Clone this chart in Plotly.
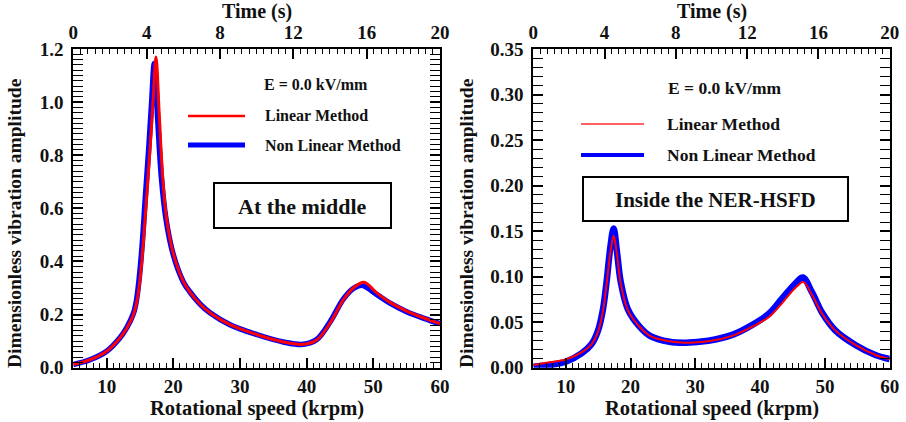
import plotly.graph_objects as go

# ---------------- data ----------------
# Left panel: "At the middle"
left_lin_x = [5, 7.5, 10, 12, 13, 14, 14.5, 15, 15.5, 16, 16.5, 17, 17.4, 17.9, 18.4, 19.0, 20, 21.5,
              22.5, 24, 25.5, 28.5, 32.5, 36.5, 39.5, 41.5, 43.5, 45.5, 47, 48.6, 50.5, 52.5, 55, 57.5, 60]
left_lin_y = [0.012, 0.03, 0.062, 0.112, 0.148, 0.198, 0.245, 0.33, 0.47, 0.64, 0.82, 1.02, 1.17, 0.95, 0.72, 0.56, 0.43,
              0.325, 0.285, 0.24, 0.207, 0.162, 0.125, 0.097, 0.088, 0.104, 0.168, 0.255, 0.30, 0.322, 0.282, 0.246,
              0.213, 0.188, 0.166]
left_non_x = [5, 7.5, 10, 12, 13, 14, 14.45, 14.9, 15.35, 15.8, 16.3, 16.75, 17.15, 17.65, 18.2, 18.9, 20, 21.5,
              22.5, 24, 25.5, 28.5, 32.5, 36.5, 39.5, 41.5, 43.5, 45.5, 47, 48.3, 50.5, 52.5, 55, 57.5, 60]
left_non_y = [0.012, 0.03, 0.062, 0.113, 0.15, 0.203, 0.25, 0.34, 0.47, 0.64, 0.82, 1.0, 1.145, 0.94, 0.72, 0.56, 0.425,
              0.323, 0.285, 0.24, 0.207, 0.162, 0.125, 0.097, 0.088, 0.106, 0.172, 0.258, 0.298, 0.31, 0.276, 0.243,
              0.211, 0.187, 0.166]

# Right panel: "Inside the NER-HSFD"
right_lin_x = [5, 7.5, 10, 12.5, 14, 15, 15.75, 16.35, 16.9, 17.4, 17.9, 18.5, 19.6, 21.4, 23, 26, 28.5, 32,
               35.7, 38.8, 41.4, 43.4, 45.5, 46.7, 48, 49.6, 51.6, 54.7, 57.8, 60]
right_lin_y = [0.003, 0.006, 0.009, 0.017, 0.026, 0.040, 0.062, 0.094, 0.127, 0.145, 0.125, 0.092, 0.063, 0.045, 0.035,
               0.029, 0.0275, 0.029, 0.035, 0.045, 0.056, 0.071, 0.088, 0.094, 0.080, 0.059, 0.041, 0.025, 0.014, 0.0095]
right_non_x = [5, 7.5, 10, 12.5, 14, 15, 15.75, 16.35, 16.9, 17.4, 17.9, 18.5, 19.6, 21.4, 23, 26, 28.5, 32,
               35.7, 38.8, 41.4, 43.4, 45.5, 46.6, 48, 49.6, 51.6, 54.7, 57.8, 60]
right_non_y = [0.001, 0.003, 0.0065, 0.016, 0.026, 0.041, 0.064, 0.097, 0.133, 0.153, 0.128, 0.094, 0.064, 0.045, 0.035,
               0.0285, 0.0275, 0.0296, 0.036, 0.047, 0.0595, 0.076, 0.093, 0.099, 0.083, 0.060, 0.041, 0.025, 0.014, 0.0095]

time_range = [0, 20]
speed_range = [5, 60]
left_y_range = [0, 1.2]
right_y_range = [0, 0.35]

field_label = "E = 0.0 kV/mm"
series_names = ["Linear Method", "Non Linear Method"]
panel_labels = ["At the middle", "Inside the NER-HSFD"]

# ---------------- figure ----------------
W, H = 906, 422
FONT = "Liberation Serif, Times New Roman, serif"
RED = "#ff0000"
BLUE = "#0000ff"
TXT = "#111111"

fig = go.Figure()

def add_curve(x, y, xa, ya, color, width, name):
    fig.add_trace(go.Scatter(x=x, y=y, xaxis=xa, yaxis=ya, mode="lines", name=name,
                             line=dict(color=color, width=width, shape="spline", smoothing=1.0),
                             showlegend=False, hoverinfo="skip"))

add_curve(left_non_x, left_non_y, "x", "y", BLUE, 5.5, series_names[1])
add_curve(left_lin_x, left_lin_y, "x", "y", RED, 3, series_names[0])
add_curve(right_non_x, right_non_y, "x2", "y2", BLUE, 6.5, series_names[1])
add_curve(right_lin_x, right_lin_y, "x2", "y2", RED, 2, series_names[0])

# invisible traces to activate top time axes
fig.add_trace(go.Scatter(x=time_range, y=[None, None], xaxis="x3", yaxis="y", mode="lines",
                         showlegend=False, hoverinfo="skip"))
fig.add_trace(go.Scatter(x=time_range, y=[None, None], xaxis="x4", yaxis="y2", mode="lines",
                         showlegend=False, hoverinfo="skip"))

def px_x(p):
    return p / W

def px_y(p):
    return 1 - p / H

tickfont = dict(family=FONT, size=19, color=TXT, weight="bold")
ytop, ybot = 49, 367.7
dom_y = [px_y(ybot), px_y(ytop)]
dom_left = [px_x(73.3), px_x(440)]
dom_right = [px_x(533.3), px_x(889.7)]

common_axis = dict(showline=True, linecolor="black", linewidth=2, ticks="inside", tickcolor="black",
                   ticklen=10, tickwidth=1.5, showgrid=False, zeroline=False, tickfont=tickfont)

xbottom = dict(common_axis, range=speed_range, dtick=10, tick0=0, mirror=True,
               minor=dict(dtick=1, tick0=0, ticklen=5, ticks="inside", tickcolor="black", tickwidth=1.2))
xtop = dict(common_axis, range=time_range, dtick=4, tick0=0, side="top",
            minor=dict(dtick=0.4, tick0=0, ticklen=5, ticks="inside", tickcolor="black", tickwidth=1.2))

fig.update_layout(
    width=W, height=H, margin=dict(l=0, r=0, t=0, b=0, autoexpand=False),
    paper_bgcolor="white", plot_bgcolor="white", showlegend=False,
    xaxis=dict(xbottom, domain=dom_left, anchor="y"),
    yaxis=dict(common_axis, domain=dom_y, range=left_y_range, dtick=0.2, tickformat=".1f", anchor="x",
               mirror="allticks", ticklabelstandoff=4,
               minor=dict(dtick=0.02, ticklen=5, ticks="inside", tickcolor="black", tickwidth=1.2)),
    xaxis2=dict(xbottom, domain=dom_right, anchor="y2"),
    yaxis2=dict(common_axis, domain=dom_y, range=right_y_range, dtick=0.05, tickformat=".2f", anchor="x2",
                mirror="allticks", ticklabelstandoff=4,
                minor=dict(dtick=0.01, ticklen=5, ticks="inside", tickcolor="black", tickwidth=1.2)),
    xaxis3=dict(xtop, overlaying="x", anchor="y"),
    xaxis4=dict(xtop, overlaying="x2", anchor="y2"),
)

shapes = []
annotations = []

def text(xp, yp, s, size, xanchor="center", angle=0):
    annotations.append(dict(x=px_x(xp), y=px_y(yp), xref="paper", yref="paper", text=s, showarrow=False,
                            xanchor=xanchor, yanchor="middle", textangle=angle,
                            font=dict(family=FONT, size=size, color=TXT, weight="bold")))

# axis titles
for cx, ytx in [(256.7, 15), (711.5, 467)]:
    text(cx, 12, "Time (s)", 20)
    text(cx, 408, "Rotational speed (krpm)", 20.5)
    text(ytx, 223, "Dimensionless vibration amplitude", 19.5, angle=-90)

# legends (left)
text(262, 84, field_label, 16, xanchor="left")
shapes.append(dict(type="line", xref="paper", yref="paper", x0=px_x(188), x1=px_x(245), y0=px_y(116), y1=px_y(116),
                   line=dict(color=RED, width=2.5)))
text(263, 116, series_names[0], 16, xanchor="left")
shapes.append(dict(type="line", xref="paper", yref="paper", x0=px_x(188), x1=px_x(245), y0=px_y(145), y1=px_y(145),
                   line=dict(color=BLUE, width=5)))
text(263, 145, series_names[1], 16, xanchor="left")

# legends (right)
text(666, 88, field_label, 17.5, xanchor="left")
shapes.append(dict(type="line", xref="paper", yref="paper", x0=px_x(581), x1=px_x(644), y0=px_y(124), y1=px_y(124),
                   line=dict(color="#ff6060", width=2)))
text(665, 124, series_names[0], 17.5, xanchor="left")
shapes.append(dict(type="line", xref="paper", yref="paper", x0=px_x(581), x1=px_x(644), y0=px_y(155), y1=px_y(155),
                   line=dict(color=BLUE, width=4)))
text(665, 155, series_names[1], 17.5, xanchor="left")

# panel label boxes
shapes.append(dict(type="rect", xref="paper", yref="paper", x0=px_x(214), x1=px_x(391), y0=px_y(228), y1=px_y(183),
                   line=dict(color="black", width=2), fillcolor="white"))
text(302.5, 206, panel_labels[0], 22)
shapes.append(dict(type="rect", xref="paper", yref="paper", x0=px_x(583), x1=px_x(848), y0=px_y(221), y1=px_y(177),
                   line=dict(color="black", width=2), fillcolor="white"))
text(715, 200, panel_labels[1], 21)

fig.update_layout(shapes=shapes, annotations=annotations)
fig.write_html("out.html")
